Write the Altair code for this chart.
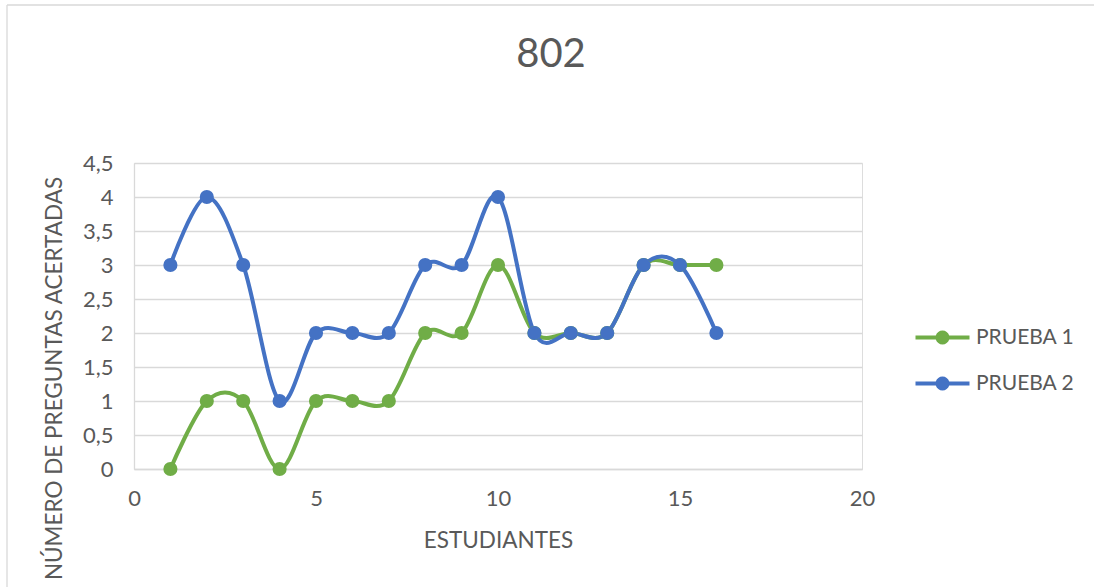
import altair as alt
import pandas as pd

estudiantes = list(range(1, 17))
prueba1 = [0, 1, 1, 0, 1, 1, 1, 2, 2, 3, 2, 2, 2, 3, 3, 3]
prueba2 = [3, 4, 3, 1, 2, 2, 2, 3, 3, 4, 2, 2, 2, 3, 3, 2]
series_names = ["PRUEBA 1", "PRUEBA 2"]
series_colors = ["#70AD47", "#4472C4"]
x_ticks = [0, 5, 10, 15, 20]
y_ticks = [0, 0.5, 1, 1.5, 2, 2.5, 3, 3.5, 4, 4.5]
title_text = "802"

rows = []
for name, vals in zip(series_names, [prueba1, prueba2]):
    for e, v in zip(estudiantes, vals):
        rows.append({"Estudiante": e, "Valor": v, "Serie": name})
df = pd.DataFrame(rows)

FONT = "Lato"
GRAY_TXT = "#595959"
GRID = "#D9D9D9"

PL, PT, PW, PH = 134, 163, 728, 306

x_enc = alt.X(
    "Estudiante:Q",
    scale=alt.Scale(domain=[0, 20], nice=False, zero=False),
    axis=alt.Axis(
        values=x_ticks, title="ESTUDIANTES", grid=False, ticks=False, labelFlush=False,
        domain=True, domainColor=GRID, domainWidth=1.3,
        labelFontSize=22, labelColor=GRAY_TXT, labelFont=FONT, labelPadding=19,
        titleFontSize=22.5, titleColor=GRAY_TXT, titleFont=FONT, titleFontWeight="normal",
        titleY=60, titleBaseline="top",
    ),
)
y_enc = alt.Y(
    "Valor:Q",
    scale=alt.Scale(domain=[0, 4.5], nice=False),
    axis=alt.Axis(
        values=y_ticks, title="NÚMERO DE PREGUNTAS ACERTADAS", grid=True, gridColor=GRID,
        gridWidth=1.3, ticks=False, domain=True, domainColor=GRID, domainWidth=1.3,
        labelFlush=False,
        labelExpr="replace(format(datum.value, '.1~f'), '.', ',')",
        labelFontSize=22, labelColor=GRAY_TXT, labelFont=FONT, labelPadding=21,
        titleFontSize=22.5, titleColor=GRAY_TXT, titleFont=FONT, titleFontWeight="normal",
        titleX=-80, titleY=215, titleBaseline="middle", titleAlign="center", titleAngle=-90,
    ),
)
color_scale = alt.Scale(domain=series_names, range=series_colors)

legend_path = ("M-2,-0.15H-0.498A0.52,0.52 0 0 1 0.498,-0.15H2V0.15H0.498"
               "A0.52,0.52 0 0 1 -0.498,0.15H-2Z")
legend = alt.Legend(
    title=None, orient="none", legendX=795, legendY=161, padding=0,
    symbolType=legend_path, symbolSize=729, symbolStrokeWidth=0,
    symbolOpacity=1, labelOffset=20, rowPadding=22,
    labelFontSize=21, labelColor=GRAY_TXT, labelFont=FONT,
)

lines = alt.Chart(df).mark_line(interpolate="cardinal", tension=0, strokeWidth=4).encode(
    x=x_enc, y=y_enc,
    color=alt.Color("Serie:N", scale=color_scale, legend=legend),
)
points = alt.Chart(df).mark_point(filled=True, size=200, opacity=1).encode(
    x=x_enc, y=y_enc,
    color=alt.Color("Serie:N", scale=color_scale, legend=legend),
)

border_data = alt.Data(values=[{"a": 1}])
top_border = alt.Chart(border_data).mark_rule(color=GRID, strokeWidth=1.3).encode(
    x=alt.value(7 - PL), x2=alt.value(1094 - PL), y=alt.value(5 - PT)
)
left_border = alt.Chart(border_data).mark_rule(color=GRID, strokeWidth=1.3).encode(
    x=alt.value(7 - PL), y=alt.value(5 - PT), y2=alt.value(587 - PT)
)
title_mark = alt.Chart(alt.Data(values=[{"t": title_text}])).mark_text(
    fontSize=40, font=FONT, color=GRAY_TXT, align="center", baseline="alphabetic"
).encode(text="t:N", x=alt.value(551 - PL), y=alt.value(67 - PT))

chart = alt.layer(top_border, left_border, title_mark, lines, points).properties(
    width=PW, height=PH,
    autosize=alt.AutoSizeParams(type="none"),
    padding={"left": PL, "top": PT, "right": 1094 - PL - PW, "bottom": 587 - PT - PH},
).configure_view(stroke=None).configure(background="white")

chart.save("out.html", embed_options={"renderer": "svg", "actions": False})
